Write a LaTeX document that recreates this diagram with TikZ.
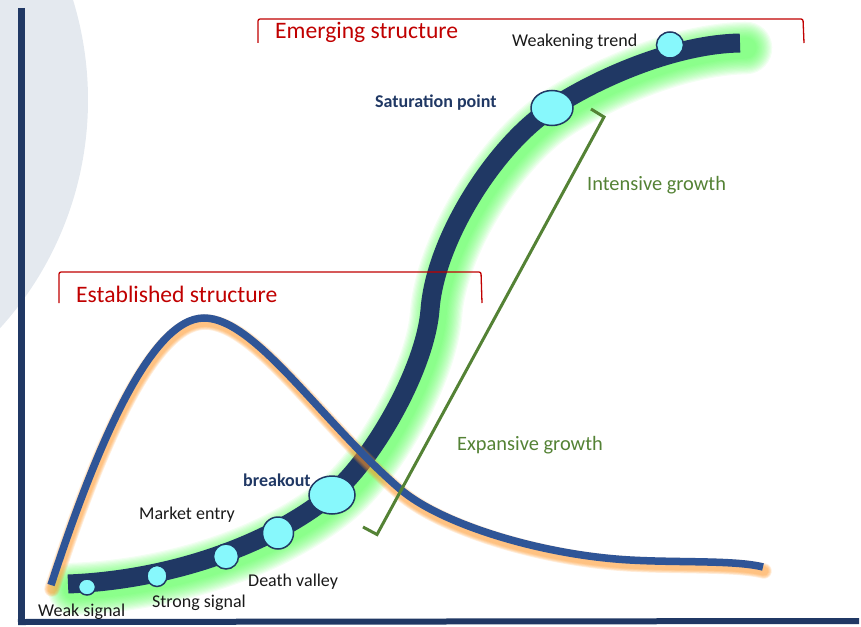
\documentclass[tikz,border=0pt]{standalone}
\usepackage{fontspec}
\setmainfont{Carlito}
\usetikzlibrary{shapes.geometric}
\definecolor{navy}{RGB}{32,56,100}
\definecolor{bellblue}{RGB}{47,85,151}
\definecolor{glowgreen}{RGB}{80,255,80}
\definecolor{glowor}{RGB}{255,150,40}
\definecolor{dotcyan}{RGB}{135,248,252}
\definecolor{redtxt}{RGB}{192,0,0}
\definecolor{greentxt}{RGB}{84,130,53}
\definecolor{bgcircle}{RGB}{228,233,239}
\def\mainS{(68,584) .. controls (170,580) and (270,545) .. (332,494) .. controls (372,461) and (425,370) .. (430,310) .. controls (435,240) and (495,145) .. (552,108) .. controls (605,73.6) and (680,44) .. (740,43)}
\def\bellS{(51,585) .. controls (95,450) and (150,318) .. (204,318) .. controls (255,318) and (320,420) .. (400,489) .. controls (440,523.5) and (540,555) .. (630,560) .. controls (680,562.8) and (735,560) .. (763,567)}
\tikzset{
  dot/.style={ellipse, draw=navy, line width=1.5pt, fill=dotcyan, inner sep=0pt},
  lbl/.style={anchor=base west, inner sep=0pt, font=\fontsize{18}{21}\selectfont, text=black!90},
  boldlbl/.style={anchor=base west, inner sep=0pt, font=\fontsize{18}{21}\selectfont\bfseries, text=navy},
  redlbl/.style={anchor=base west, inner sep=0pt, font=\fontsize{23.6}{27}\selectfont, text=redtxt},
  greenlbl/.style={anchor=base west, inner sep=0pt, font=\fontsize{20.4}{24}\selectfont, text=greentxt},
  redbracket/.style={draw=redtxt, line width=1.3pt, rounded corners=2pt},
  greenbracket/.style={draw=greentxt, line width=3pt},
  axis/.style={draw=navy, line width=6.5pt},
}
\begin{document}
\begin{tikzpicture}[x=1pt,y=-1pt]
\useasboundingbox (0,0) rectangle (861,626);
\clip (0,0) rectangle (861,626);
% background circle
\fill[bgcircle] (-252,100) circle[radius=340pt];
% axes
\coordinate (ytop) at (21.5,8);
\coordinate (origin) at (21.5,622);
\coordinate (xstart) at (18,622);
\coordinate (xend) at (859,621);
\draw[axis] (ytop) -- (origin);
\draw[navy, line width=6pt] (xstart) -- (xend);
% green glow of main curve
\foreach \k in {1,...,14}{
  \draw[glowgreen, opacity=0.075, line width={19+2.4*\k}, line cap=round, shift={(6,5)}] \mainS;
}
% main curve
\draw[navy, line width=19pt] \mainS;
% dots
\node[dot, minimum width=17pt, minimum height=16pt] (weak) at (87,587) {};
\node[dot, minimum width=20pt, minimum height=21pt] (strong) at (157,576) {};
\node[dot, minimum width=25pt, minimum height=25pt] (d3) at (226,556.5) {};
\node[dot, minimum width=31pt, minimum height=32pt] (d4) at (278,533) {};
\node[dot, minimum width=46pt, minimum height=38pt] (brk) at (332,495) {};
\node[dot, minimum width=42pt, minimum height=35pt] (sat) at (552,108) {};
\node[dot, minimum width=27pt, minimum height=26pt] (wkn) at (670,45) {};
% bell curve glow
\foreach \k in {1,...,5}{
  \draw[glowor, opacity=0.16, line width={7.5+1.6*\k}, line cap=round, shift={(1,4)}] \bellS;
}
\draw[bellblue, line width=7.5pt] \bellS;
% red brackets
\coordinate (e1) at (258,43);
\coordinate (e2) at (258,19);
\coordinate (e3) at (803,19);
\coordinate (e4) at (804,43);
\draw[redbracket] (e1) -- (e2) -- (e3) -- (e4);
\coordinate (s1) at (59,303);
\coordinate (s2) at (59,272);
\coordinate (s3) at (481,272);
\coordinate (s4) at (482,303);
\draw[redbracket] (s1) -- (s2) -- (s3) -- (s4);
% green bracket
\coordinate (g1) at (363,527);
\coordinate (g2) at (377,534.5);
\coordinate (g3) at (604,117);
\coordinate (g4) at (591,109);
\draw[greenbracket] (g1) -- (g2) -- (g3) -- (g4);
% labels
\node[redlbl] (emerg) at (275,38) {Emerging structure};
\node[redlbl] (estab) at (76,302) {Established structure};
\node[lbl] (wt) at (512,46) {Weakening trend};
\node[boldlbl] (sp) at (375,107) {Saturation point};
\node[greenlbl] (ig) at (587,190) {Intensive growth};
\node[greenlbl] (eg) at (457,450) {Expansive growth};
\node[boldlbl] (bo) at (243,486) {breakout};
\node[lbl] (me) at (139,519) {Market entry};
\node[lbl] (dv) at (248,586) {Death valley};
\node[lbl] (ss) at (152,607) {Strong signal};
\node[lbl] (ws) at (38,616) {Weak signal};
\end{tikzpicture}
\end{document}
